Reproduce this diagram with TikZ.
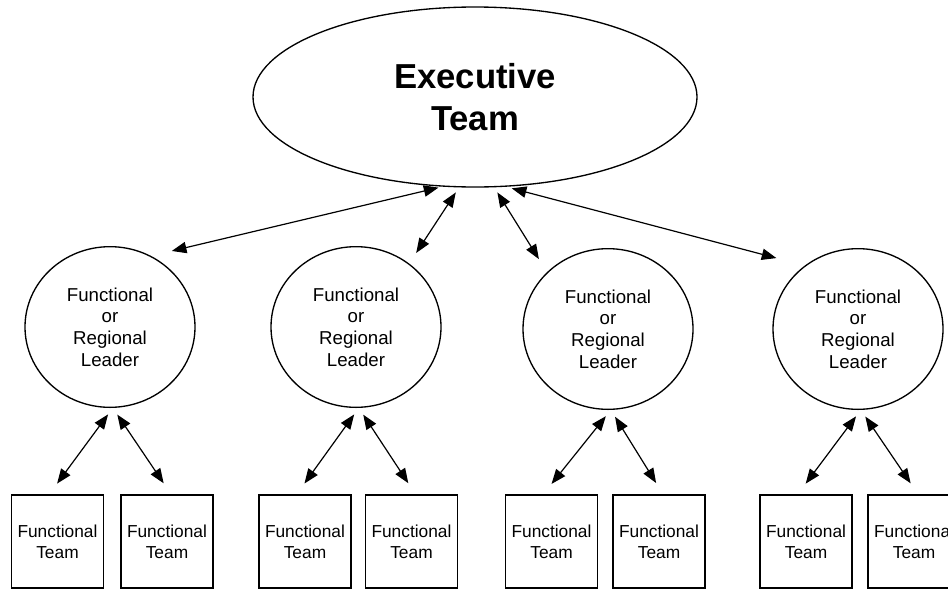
\documentclass[tikz,border=0pt]{standalone}
\usepackage{fontspec}
\setmainfont{Liberation Sans}
\usetikzlibrary{shapes.geometric}
\usetikzlibrary{arrows.meta}

\begin{document}
\begin{tikzpicture}[x=0.75pt,y=-0.75pt,
        lead/.style={ellipse, draw, line width=1pt, minimum width=127.5pt, minimum height=120.5pt, inner sep=0pt, align=center, font=\fontsize{14}{16.3}\selectfont},
        unit/.style={rectangle, draw, line width=1pt, minimum width=69pt, minimum height=69.75pt, inner sep=0pt, align=center, font=\fontsize{13}{15.8}\selectfont},
        link/.style={{Triangle[length=11pt,width=8.5pt]}-{Triangle[length=11pt,width=8.5pt]}, line width=0.9pt}]
        \useasboundingbox (0,0) rectangle (948,589);
        \node[ellipse, draw, line width=1pt, minimum width=333pt, minimum height=135pt, inner sep=0pt, align=center, font=\fontsize{26}{31.5}\selectfont\bfseries](exec) at (475,97){Executive\\Team};
        \node[lead](l1) at (110,327){Functional\\or\\Regional\\Leader};
        \node[lead](l2) at (356,327){Functional\\or\\Regional\\Leader};
        \node[lead](l3) at (608,329){Functional\\or\\Regional\\Leader};
        \node[lead](l4) at (858,329){Functional\\or\\Regional\\Leader};
        \node[unit](t1) at (57.5,541.5){Functional\\Team};
        \node[unit](t2) at (167,541.5){Functional\\Team};
        \node[unit](t3) at (305,541.5){Functional\\Team};
        \node[unit](t4) at (411.5,541.5){Functional\\Team};
        \node[unit](t5) at (551.5,541.5){Functional\\Team};
        \node[unit](t6) at (659,541.5){Functional\\Team};
        \node[unit](t7) at (806,541.5){Functional\\Team};
        \node[unit](t8) at (914,541.5){Functional\\Team};
        \draw[link, shorten <=3pt, shorten >=16pt](exec.-110)--(l1.60);
        \draw[link, shorten <=4.5pt, shorten >=9.5pt](exec.-100)--(l2.50);
        \draw[link, shorten <=4.5pt, shorten >=11.5pt](exec.-78)--(l3.137);
        \draw[link, shorten <=4.5pt, shorten >=22pt](exec.-71)--(l4.130);
        \draw[link, shorten <=6pt, shorten >=10pt](l1.-88)--(t1.100);
        \draw[link, shorten <=6pt, shorten >=10pt](l1.-88)--(t2.85);
        \draw[link, shorten <=6pt, shorten >=10pt](l2.-88)--(t3.100);
        \draw[link, shorten <=6pt, shorten >=10pt](l2.-88)--(t4.85);
        \draw[link, shorten <=6pt, shorten >=10pt](l3.-88)--(t5.100);
        \draw[link, shorten <=6pt, shorten >=10pt](l3.-88)--(t6.85);
        \draw[link, shorten <=6pt, shorten >=10pt](l4.-88)--(t7.100);
        \draw[link, shorten <=6pt, shorten >=10pt](l4.-88)--(t8.85);
    \end{tikzpicture}
\end{document}
